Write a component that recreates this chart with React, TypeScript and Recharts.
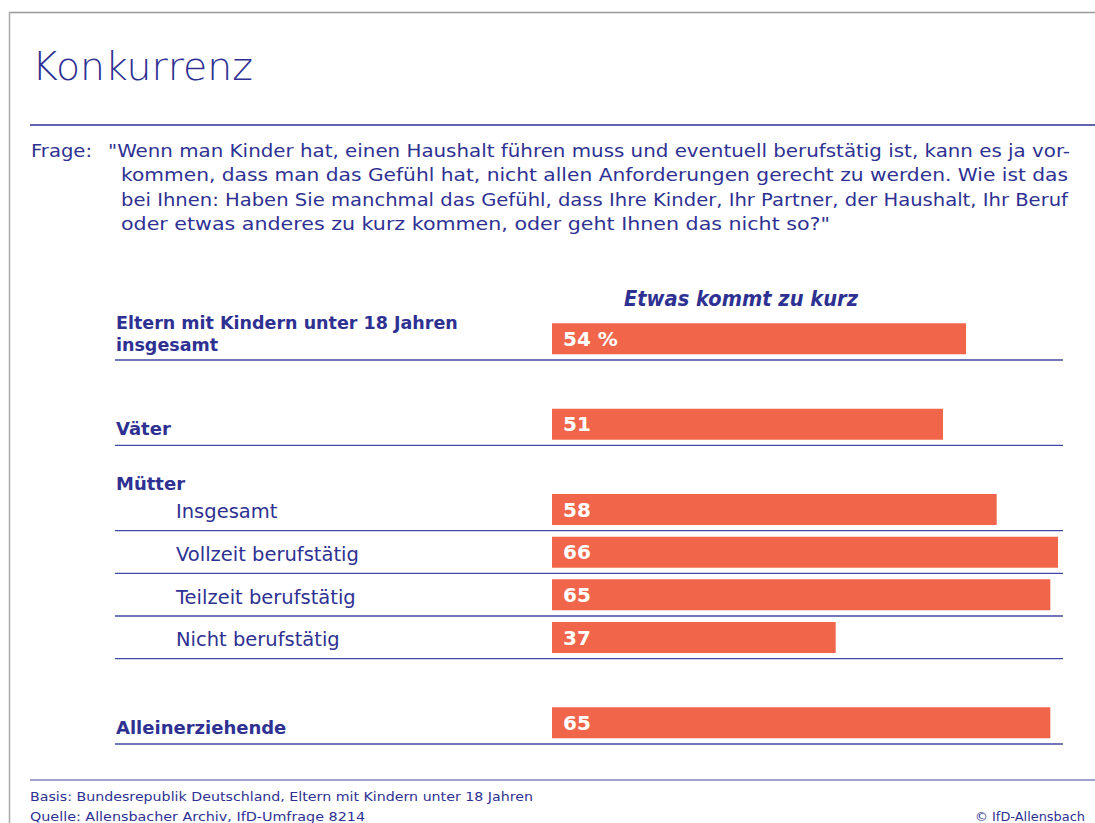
import React from 'react';
import { BarChart, Bar, XAxis, YAxis, LabelList } from 'recharts';

// rows of the chart, top to bottom (gaps and the "Mütter" header carry no bar)
const rowKeys = ['eltern', 'gap1', 'vaeter', 'muetter', 'm_ins', 'm_voll', 'm_teil', 'm_nicht', 'gap2', 'allein'];
const rowLabels = [
  ['Eltern mit Kindern unter 18 Jahren', 'insgesamt'],
  [],
  ['Väter'],
  ['Mütter'],
  ['Insgesamt'],
  ['Vollzeit berufstätig'],
  ['Teilzeit berufstätig'],
  ['Nicht berufstätig'],
  [],
  ['Alleinerziehende'],
];
const rowKinds = ['main', 'gap', 'main', 'group', 'sub', 'sub', 'sub', 'sub', 'gap', 'main'];
const values = [54, null, 51, null, 58, 66, 65, 37, null, 65];
const valueLabels = ['54 %', '', '51', '', '58', '66', '65', '37', '', '65'];

const questionLines = [
  '"Wenn man Kinder hat, einen Haushalt führen muss und eventuell berufstätig ist, kann es ja vor-',
  'kommen, dass man das Gefühl hat, nicht allen Anforderungen gerecht zu werden. Wie ist das',
  'bei Ihnen: Haben Sie manchmal das Gefühl, dass Ihre Kinder, Ihr Partner, der Haushalt, Ihr Beruf',
  'oder etwas anderes zu kurz kommen, oder geht Ihnen das nicht so?"',
];

const data = rowKeys.map((key, i) => ({
  key,
  value: values[i],
  label: valueLabels[i] || undefined,
  kind: rowKinds[i],
  lines: rowLabels[i],
}));

const BLUE = '#2e3192';
const RULE = '#4347a3';
const ORANGE = '#f1664a';
const FONT = '"DejaVu Sans", sans-serif';
const LABEL_X = 116;
const SUB_X = 176;
const LINE_END = 1063;

function RowTick(props: any) {
  const { y, payload } = props;
  const row = data.find((d) => d.key === payload.value);
  if (!row || row.kind === 'gap') return null;
  const half = payload.offset || 21.33;
  const common = { fontFamily: FONT, fill: BLUE };
  let text: React.ReactNode = null;
  if (row.kind === 'main' && row.lines.length === 2) {
    text = (
      <text {...common} fontSize={17.5} fontWeight="bold">
        <tspan x={LABEL_X} y={y - 10}>{row.lines[0]}</tspan>
        <tspan x={LABEL_X} y={y + 12.5}>{row.lines[1]}</tspan>
      </text>
    );
  } else if (row.kind === 'main') {
    text = <text {...common} x={LABEL_X} y={y + 11} fontSize={18} fontWeight="bold">{row.lines[0]}</text>;
  } else if (row.kind === 'group') {
    text = <text {...common} x={LABEL_X} y={y + 23} fontSize={18} fontWeight="bold">{row.lines[0]}</text>;
  } else {
    text = <text {...common} x={SUB_X} y={y + 9} fontSize={19.5}>{row.lines[0]}</text>;
  }
  return (
    <g>
      {text}
      {row.kind !== 'group' && (
        <line x1={LABEL_X - 1} x2={LINE_END} y1={y + half} y2={y + half} stroke={RULE} strokeWidth={1.3} />
      )}
    </g>
  );
}

export default function App() {
  return (
    <div style={{ position: 'absolute', left: 0, top: 0, width: 1095, height: 823, background: '#fff', overflow: 'hidden' }}>
      <svg width={1095} height={823} style={{ position: 'absolute', left: 0, top: 0 }}>
        {/* frame */}
        <line x1={9.5} x2={1095} y1={12.5} y2={12.5} stroke="#999" strokeWidth={1.5} />
        <line x1={9.5} x2={9.5} y1={12} y2={823} stroke="#aaa" strokeWidth={1.5} />

        <text x={32} y={80} fontFamily={FONT} fontSize={39} fontWeight={200} fill={BLUE} textLength={221} lengthAdjust="spacingAndGlyphs">
          Konkurrenz
        </text>
        <line x1={30} x2={1095} y1={125} y2={125} stroke={BLUE} strokeWidth={1.5} />

        <text x={31} y={157} fontFamily={FONT} fontSize={17.5} fill={BLUE} textLength={61} lengthAdjust="spacingAndGlyphs">Frage:</text>
        {questionLines.map((line, i) => (
          <text
            key={i}
            x={i === 0 ? 108 : 121}
            y={157 + i * 24.3}
            fontFamily={FONT}
            fontSize={17.5}
            fill={BLUE}
            textLength={[962, 947, 947, 709][i]}
            lengthAdjust="spacingAndGlyphs"
          >
            {line}
          </text>
        ))}

        <text x={624} y={306} fontFamily={FONT} fontSize={20.5} fontWeight="bold" fontStyle="italic" fill={BLUE} textLength={234} lengthAdjust="spacingAndGlyphs">
          Etwas kommt zu kurz
        </text>

        {/* footer */}
        <line x1={30} x2={1095} y1={780} y2={780} stroke={RULE} strokeWidth={1.2} />
        <text x={30} y={801} fontFamily={FONT} fontSize={13} fill={BLUE} textLength={503} lengthAdjust="spacingAndGlyphs">
          Basis: Bundesrepublik Deutschland, Eltern mit Kindern unter 18 Jahren
        </text>
        <text x={30} y={821} fontFamily={FONT} fontSize={13} fill={BLUE} textLength={335} lengthAdjust="spacingAndGlyphs">
          Quelle: Allensbacher Archiv, IfD-Umfrage 8214
        </text>
        <text x={975} y={821} fontFamily={FONT} fontSize={13} fill={BLUE} textLength={110} lengthAdjust="spacingAndGlyphs">
          © IfD-Allensbach
        </text>
      </svg>

      <div style={{ position: 'absolute', left: 0, top: 0 }}>
        <BarChart
          width={1095}
          height={823}
          data={data}
          layout="vertical"
          margin={{ top: 317.33, right: 32, bottom: 79, left: 112 }}
        >
          <XAxis type="number" domain={[0, 66.65]} hide />
          <YAxis
            type="category"
            dataKey="key"
            width={440}
            axisLine={false}
            tickLine={false}
            interval={0}
            tick={<RowTick />}
          />
          <Bar dataKey="value" fill={ORANGE} barSize={31} isAnimationActive={false}>
            <LabelList
              dataKey="label"
              position="insideLeft"
              offset={11}
              fill="#fff"
              fontFamily={FONT}
              fontSize={20}
              fontWeight="bold"
            />
          </Bar>
        </BarChart>
      </div>
    </div>
  );
}
